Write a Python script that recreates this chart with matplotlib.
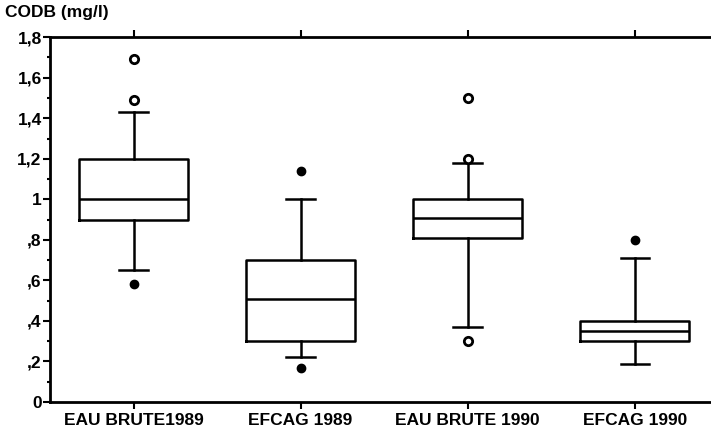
import numpy as np
import matplotlib as mpl
mpl.use('Agg')
from matplotlib import pyplot as plt

plt.rcParams['font.family'] = ['Liberation Sans', 'DejaVu Sans']
plt.rcParams['font.weight'] = 'bold'

groups = ['EAU BRUTE1989', 'EFCAG 1989', 'EAU BRUTE 1990', 'EFCAG 1990']
q1 = [0.90, 0.30, 0.81, 0.30]
med = [1.00, 0.51, 0.91, 0.35]
q3 = [1.20, 0.70, 1.00, 0.40]
whislo = [0.65, 0.22, 0.37, 0.19]
whishi = [1.43, 1.00, 1.18, 0.71]
open_out = [[1.69, 1.49], [], [1.50, 1.20, 0.30], []]
filled_out = [[0.58], [1.14, 0.17], [], [0.80]]

yticks = [0, 0.2, 0.4, 0.6, 0.8, 1.0, 1.2, 1.4, 1.6, 1.8]
ytick_labels = ['0', ',2', ',4', ',6', ',8', '1', '1,2', '1,4', '1,6', '1,8']

stats = []
for i in range(len(groups)):
    stats.append({'label': groups[i], 'q1': q1[i], 'med': med[i], 'q3': q3[i],
                  'whislo': whislo[i], 'whishi': whishi[i], 'fliers': open_out[i]})

fig = plt.figure(figsize=(7.11, 4.37), dpi=100)
ax = fig.add_axes([0.0703, 0.08, 0.94, 0.835])

lw = 1.8
pos = np.arange(1, len(groups) + 1)
ax.bxp(stats, positions=pos, widths=0.65, capwidths=0.17,
       boxprops=dict(color='black', linewidth=lw),
       medianprops=dict(color='black', linewidth=lw),
       whiskerprops=dict(color='black', linewidth=lw),
       capprops=dict(color='black', linewidth=lw),
       flierprops=dict(marker='o', markerfacecolor='white', markeredgecolor='black',
                       markersize=6, markeredgewidth=2))
for i in range(len(groups)):
    if filled_out[i]:
        ax.plot([pos[i]] * len(filled_out[i]), filled_out[i], 'o', color='black', markersize=6)

ax.set_xlim(0.5, 4.5)
ax.set_ylim(0, 1.8)
ax.set_yticks(yticks)
ax.set_yticklabels(ytick_labels, fontsize=12.5, fontweight='bold')
ax.set_yticks(np.arange(0.1, 1.8, 0.2), minor=True)
ax.set_xticks(pos)
ax.set_xticklabels(groups, fontsize=12.5, fontweight='bold')
ax.tick_params(axis='x', top=True, direction='out', length=5, width=1.5, pad=3)
ax.tick_params(axis='y', which='major', direction='out', length=5, width=1.5, pad=1)
ax.tick_params(axis='y', which='minor', direction='out', length=2, width=1.5)
ax.spines['right'].set_visible(False)
for s in ['left', 'top', 'bottom']:
    ax.spines[s].set_linewidth(2)

fig.text(0.007, 0.972, 'CODB (mg/l)', fontsize=12.5, fontweight='bold', ha='left', va='center')

fig.savefig('out.png', dpi=100)
